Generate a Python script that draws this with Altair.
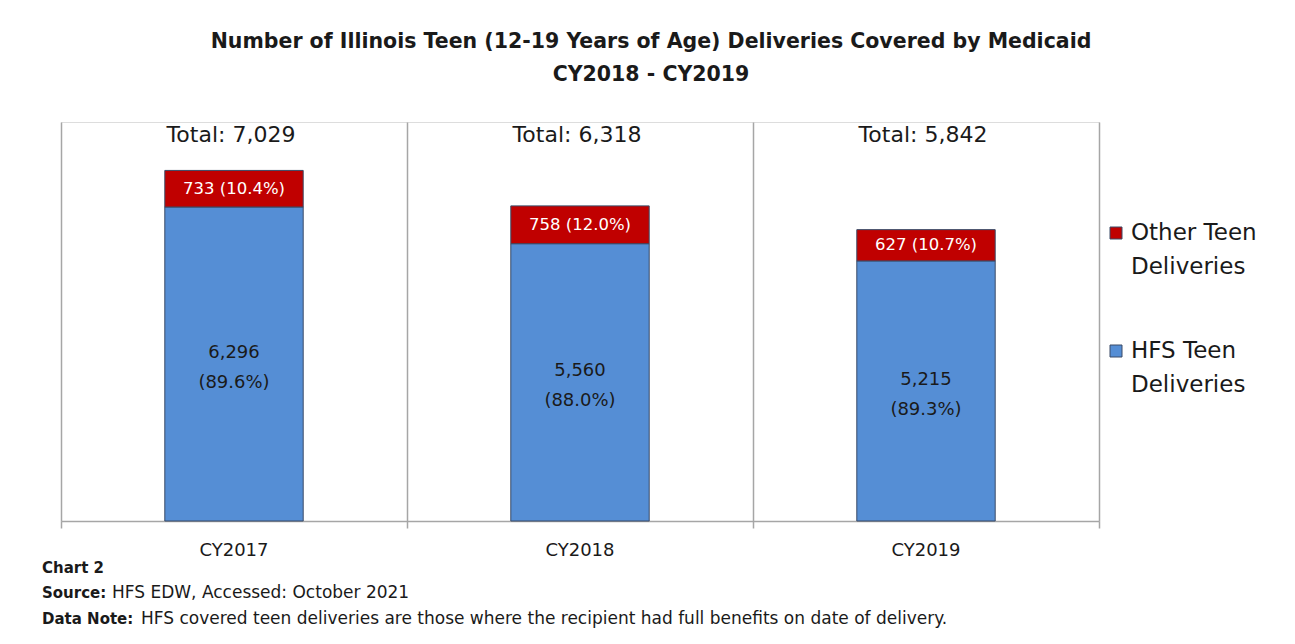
import altair as alt
import pandas as pd

years = ["CY2017", "CY2018", "CY2019"]
hfs = [6296, 5560, 5215]
other = [733, 758, 627]
totals = [7029, 6318, 5842]
hfs_pct = ["89.6%", "88.0%", "89.3%"]
other_pct = ["10.4%", "12.0%", "10.7%"]
series_names = ["Other Teen Deliveries", "HFS Teen Deliveries"]
legend_lines = ["Other Teen\nDeliveries", "HFS Teen\nDeliveries"]
title_lines = ["Number of Illinois Teen (12-19 Years of Age) Deliveries Covered by Medicaid",
               "CY2018 - CY2019"]
FONT = "DejaVu Sans"
RED = "#C00000"
BLUE = "#558ED5"
GRID = "#A6A6A6"
TXT = "#1A1A1A"
EDGE = "#3A4A66"

rows = []
for i, y in enumerate(years):
    rows.append({"year": y, "series": series_names[1], "v0": 0, "v1": hfs[i],
                 "mid": hfs[i] / 2, "label": f"{hfs[i]:,}\n({hfs_pct[i]})", "order": 0})
    rows.append({"year": y, "series": series_names[0], "v0": hfs[i], "v1": totals[i],
                 "mid": hfs[i] + other[i] / 2, "label": f"{other[i]:,} ({other_pct[i]})", "order": 1})
df = pd.DataFrame(rows)
tot = pd.DataFrame({"year": years, "total": totals,
                    "label": [f"Total: {t:,}" for t in totals], "idx": [0, 1, 2]})

xs = alt.Scale(domain=years, paddingInner=0.6, paddingOuter=0.3)
ys = alt.Scale(domain=[0, 8000], nice=False)
cs = alt.Scale(domain=series_names, range=[RED, BLUE])

x_enc = alt.X("year:N", scale=xs, sort=years, title=None,
              axis=alt.Axis(orient="bottom", labelAngle=0, labelFont=FONT, labelFontSize=18,
                            labelColor=TXT, ticks=False, domain=False, grid=False,
                            labelPadding=20))

bars = alt.Chart(df).mark_bar(stroke=EDGE, strokeWidth=1).encode(
    x=x_enc,
    y=alt.Y("v0:Q", scale=ys, axis=None),
    y2="v1:Q",
    color=alt.Color("series:N", scale=cs, legend=None),
)

red_lbl = alt.Chart(df[df.order == 1]).mark_text(
    font=FONT, fontSize=16.5, color="white", baseline="middle").encode(
    x=x_enc, y=alt.Y("mid:Q", scale=ys, axis=None), text="label:N")

blue_lbl = alt.Chart(df[df.order == 0]).mark_text(
    font=FONT, fontSize=18, color=TXT, baseline="middle", lineBreak="\n",
    lineHeight=30, dy=-11).encode(
    x=x_enc, y=alt.Y("mid:Q", scale=ys, axis=None), text="label:N")

tot_lbl = alt.Chart(tot).mark_text(
    font=FONT, fontSize=22, color=TXT, baseline="middle", dx=-3).encode(
    x=x_enc, y=alt.value(13), text="label:N")

inner = alt.layer(bars, red_lbl, blue_lbl, tot_lbl)

grid = alt.Chart(tot).mark_point(opacity=0).encode(
    x=alt.X("idx:Q", scale=alt.Scale(domain=[0, 3], nice=False, zero=False), title=None,
            axis=alt.Axis(orient="bottom", values=[0, 1, 2, 3], labels=False,
                          grid=True, gridColor=GRID, gridWidth=1.5, tickColor=GRID,
                          tickWidth=1.5, tickSize=7, domainColor=GRID, domainWidth=1.5)),
    y=alt.Y("total:Q", scale=ys, axis=None),
)

leg_y = [111, 229]
leg_layers = []
for i in range(2):
    one = pd.DataFrame({"series": [series_names[i]], "text": [legend_lines[i]]})
    leg_layers.append(alt.Chart(one).mark_square(size=144, stroke=EDGE, strokeWidth=1,
                                                 opacity=1).encode(
        x=alt.value(1055), y=alt.value(leg_y[i]),
        color=alt.Color("series:N", scale=cs, legend=None)))
    leg_layers.append(alt.Chart(one).mark_text(
        font=FONT, fontSize=23, color=TXT, align="left", baseline="middle",
        lineBreak="\n", lineHeight=34).encode(
        x=alt.value(1070), y=alt.value(leg_y[i]), text="text:N"))

notes = [
    ("Chart 2", -19, 446, "bold", 15),
    ("Source:", -19, 471, "bold", 15),
    ("HFS EDW, Accessed: October 2021", 51, 471, "normal", 17),
    ("Data Note:", -19, 497, "bold", 15),
    ("HFS covered teen deliveries are those where the recipient had full benefits on date of delivery.", 80, 497, "normal", 17),
]
note_layers = []
for t, x, y, w, fs in notes:
    note_layers.append(alt.Chart(pd.DataFrame({"t": [t]})).mark_text(
        font=FONT, fontSize=fs, fontWeight=w, color=TXT, align="left", baseline="middle").encode(
        x=alt.value(x), y=alt.value(y), text="t:N"))

chart = alt.layer(grid, inner, *leg_layers, *note_layers).resolve_scale(
    x="independent"
).resolve_axis(x="independent").properties(
    width=1038, height=399,
    title=alt.TitleParams(text=title_lines, font=FONT, fontSize=20.5, fontWeight="bold",
                          color=TXT, anchor="middle", dx=71, offset=37, lineHeight=33),
    autosize=alt.AutoSizeParams(type="none"),
    padding={"left": 53, "top": 114, "right": 188, "bottom": 115},
).configure_view(stroke=None).configure(background="white")

chart.save("out.html", embed_options={"renderer": "svg", "actions": False})
